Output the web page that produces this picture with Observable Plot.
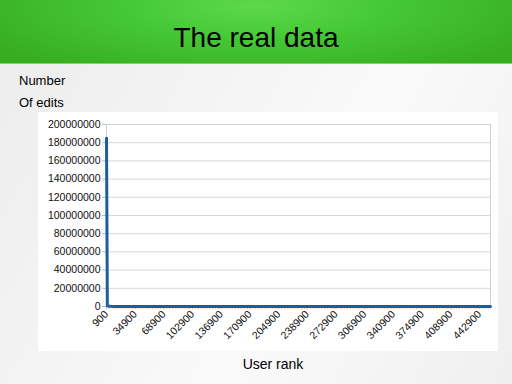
<!DOCTYPE html>
<html>
<head>
<meta charset="utf-8">
<script src="https://cdn.jsdelivr.net/npm/d3@7"></script>
<script src="https://cdn.jsdelivr.net/npm/@observablehq/plot@0.6"></script>
<style>
  html, body { margin: 0; padding: 0; }
  body {
    width: 512px; height: 384px; overflow: hidden; position: relative;
    font-family: "Liberation Sans", Arial, sans-serif;
    background: linear-gradient(120deg, #ececec 0%, #f6f6f6 45%, #fafafa 60%, #efefef 100%);
  }
  #header {
    position: absolute; left: 0; top: 0; width: 512px; height: 63px;
    background: radial-gradient(ellipse 60% 120% at 50% 10%, #5cd94c 0%, #45c735 45%, #38ad22 100%);
    border-bottom: 1px solid #6fdc5a;
  }
  #title {
    position: absolute; left: 0; width: 512px; top: 21px; text-align: center;
    font-size: 28px; color: #000; line-height: 34px;
  }
  .lbl { position: absolute; left: 19px; font-size: 13px; color: #000; }
  #box {
    position: absolute; left: 38px; top: 112px; width: 460px; height: 239px; background: #fff;
  }
  #xlabel { position: absolute; left: 0; width: 546px; top: 356px; text-align: center; font-size: 14px; color: #000; }
</style>
</head>
<body>
<div id="header"><div id="title">The real data</div></div>
<div class="lbl" style="top:73px">Number</div>
<div class="lbl" style="top:95px">Of edits</div>
<div id="box"></div>
<div id="xlabel">User rank</div>
<script>
// user rank (x) and number of edits (y)
const ranks = [900, 1900, 2900, 3900, 5900, 10900, 20900, 34900, 68900, 136900, 238900, 340900, 442900, 455900];
const edits = [185000000, 900000, 500000, 350000, 220000, 120000, 60000, 30000, 12000, 4000, 1200, 400, 150, 120];
const xTicks = [900, 34900, 68900, 102900, 136900, 170900, 204900, 238900, 272900, 306900, 340900, 374900, 408900, 442900];
const yTicks = [0, 20000000, 40000000, 60000000, 80000000, 100000000, 120000000, 140000000, 160000000, 180000000, 200000000];

const data = ranks.map((r, i) => ({rank: r, edits: edits[i]}));
const minorTicks = d3.range(900, 455900, 3400);

const chart = Plot.plot({
  width: 460,
  height: 239,
  marginLeft: 68,
  marginTop: 12,
  marginRight: 8,
  marginBottom: 45,
  style: {fontFamily: "Liberation Sans, Arial, sans-serif", fontSize: "10.5px", color: "#111", background: "#fff"},
  x: {domain: [900, 455900], label: null},
  y: {domain: [0, 200000000], label: null},
  marks: [
    Plot.gridY(yTicks, {stroke: "#d8d8d8", strokeOpacity: 1}),
    Plot.frame({stroke: "#d0d0d0"}),
    Plot.axisY({ticks: yTicks, tickFormat: d => String(d), tickSize: 4, stroke: "#bbb", tickPadding: 2, label: null}),
    Plot.axisX({ticks: minorTicks, tickFormat: () => "", tickSize: 3, stroke: "#c8c8c8", label: null}),
    Plot.axisX({ticks: xTicks, tickFormat: d => String(d), tickRotate: -45, tickSize: 3, stroke: "#bbb", tickPadding: 3, label: null}),
    Plot.line(data, {x: "rank", y: "edits", stroke: "#1c5e9c", strokeWidth: 3})
  ]
});
document.getElementById("box").appendChild(chart);
</script>
</body>
</html>
